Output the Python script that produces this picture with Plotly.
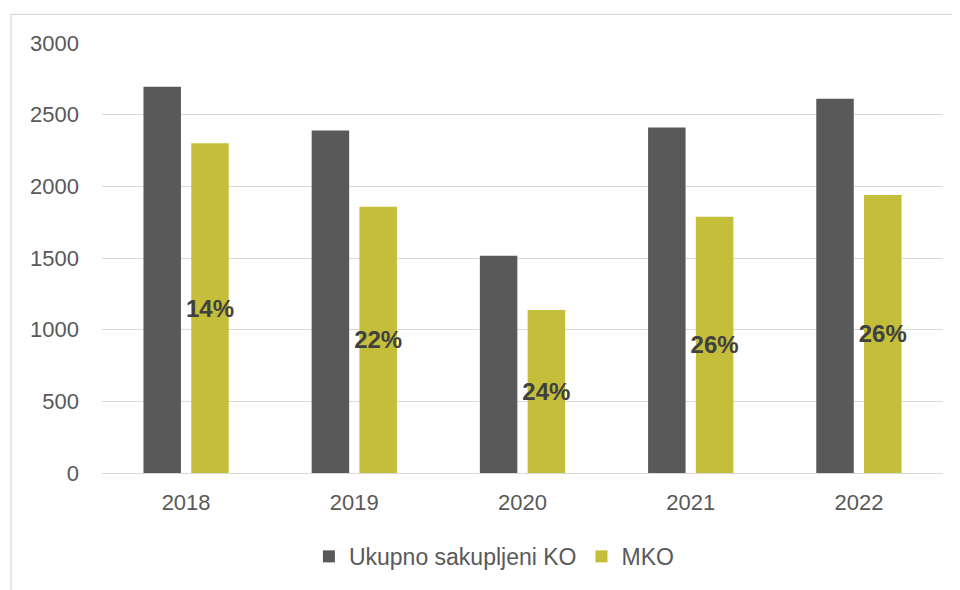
import plotly.graph_objects as go

years = ["2018", "2019", "2020", "2021", "2022"]
ukupno = [2695, 2390, 1515, 2410, 2611]
mko = [2300, 1857, 1137, 1787, 1940]
udio = ["14%", "22%", "24%", "26%", "26%"]
y_ticks = [0, 500, 1000, 1500, 2000, 2500, 3000]

GRAY = "#595959"
OLIVE = "#c4be3b"
FONT = "Liberation Sans, Arial, sans-serif"

fig = go.Figure()
fig.add_trace(go.Bar(
    x=years, y=ukupno, name="Ukupno sakupljeni KO",
    marker=dict(color=GRAY, line=dict(width=0)),
))
fig.add_trace(go.Bar(
    x=years, y=mko, name="MKO",
    marker=dict(color=OLIVE, line=dict(width=0)),
    text=udio, textposition="inside", insidetextanchor="middle",
    textangle=0, constraintext="none",
    textfont=dict(family=FONT, size=24, color="#404040", weight="bold"),
))

fig.update_layout(
    width=960, height=590,
    margin=dict(l=94, r=25, t=35, b=125, pad=0),
    paper_bgcolor="white", plot_bgcolor="white",
    barmode="group", bargap=0.432, bargroupgap=0.215,
    font=dict(family=FONT, size=22, color="#595959"),
    showlegend=True,
    legend=dict(orientation="h", x=0.466, xanchor="center", y=-0.194, yanchor="middle",
                font=dict(family=FONT, size=23, color="#595959"),
                itemwidth=30, traceorder="normal"),
    xaxis=dict(showgrid=False, showline=True, linecolor="#d9d9d9", linewidth=1.3,
               ticks="", ticklabelstandoff=9, tickfont=dict(size=22, color="#595959")),
    yaxis=dict(range=[0, 3000], tickvals=y_ticks, showgrid=True, gridcolor="#d9d9d9",
               gridwidth=1.3, zeroline=False, showline=False, ticks="",
               ticklabelstandoff=22, tickfont=dict(size=22, color="#595959")),
    shapes=[dict(type="rect", xref="paper", yref="paper",
                 x0=-0.1081, x1=1.08, y0=-0.4, y1=1.0667,
                 line=dict(color="#d9d9d9", width=1.3), layer="below")],
)

fig.write_html("out.html")
